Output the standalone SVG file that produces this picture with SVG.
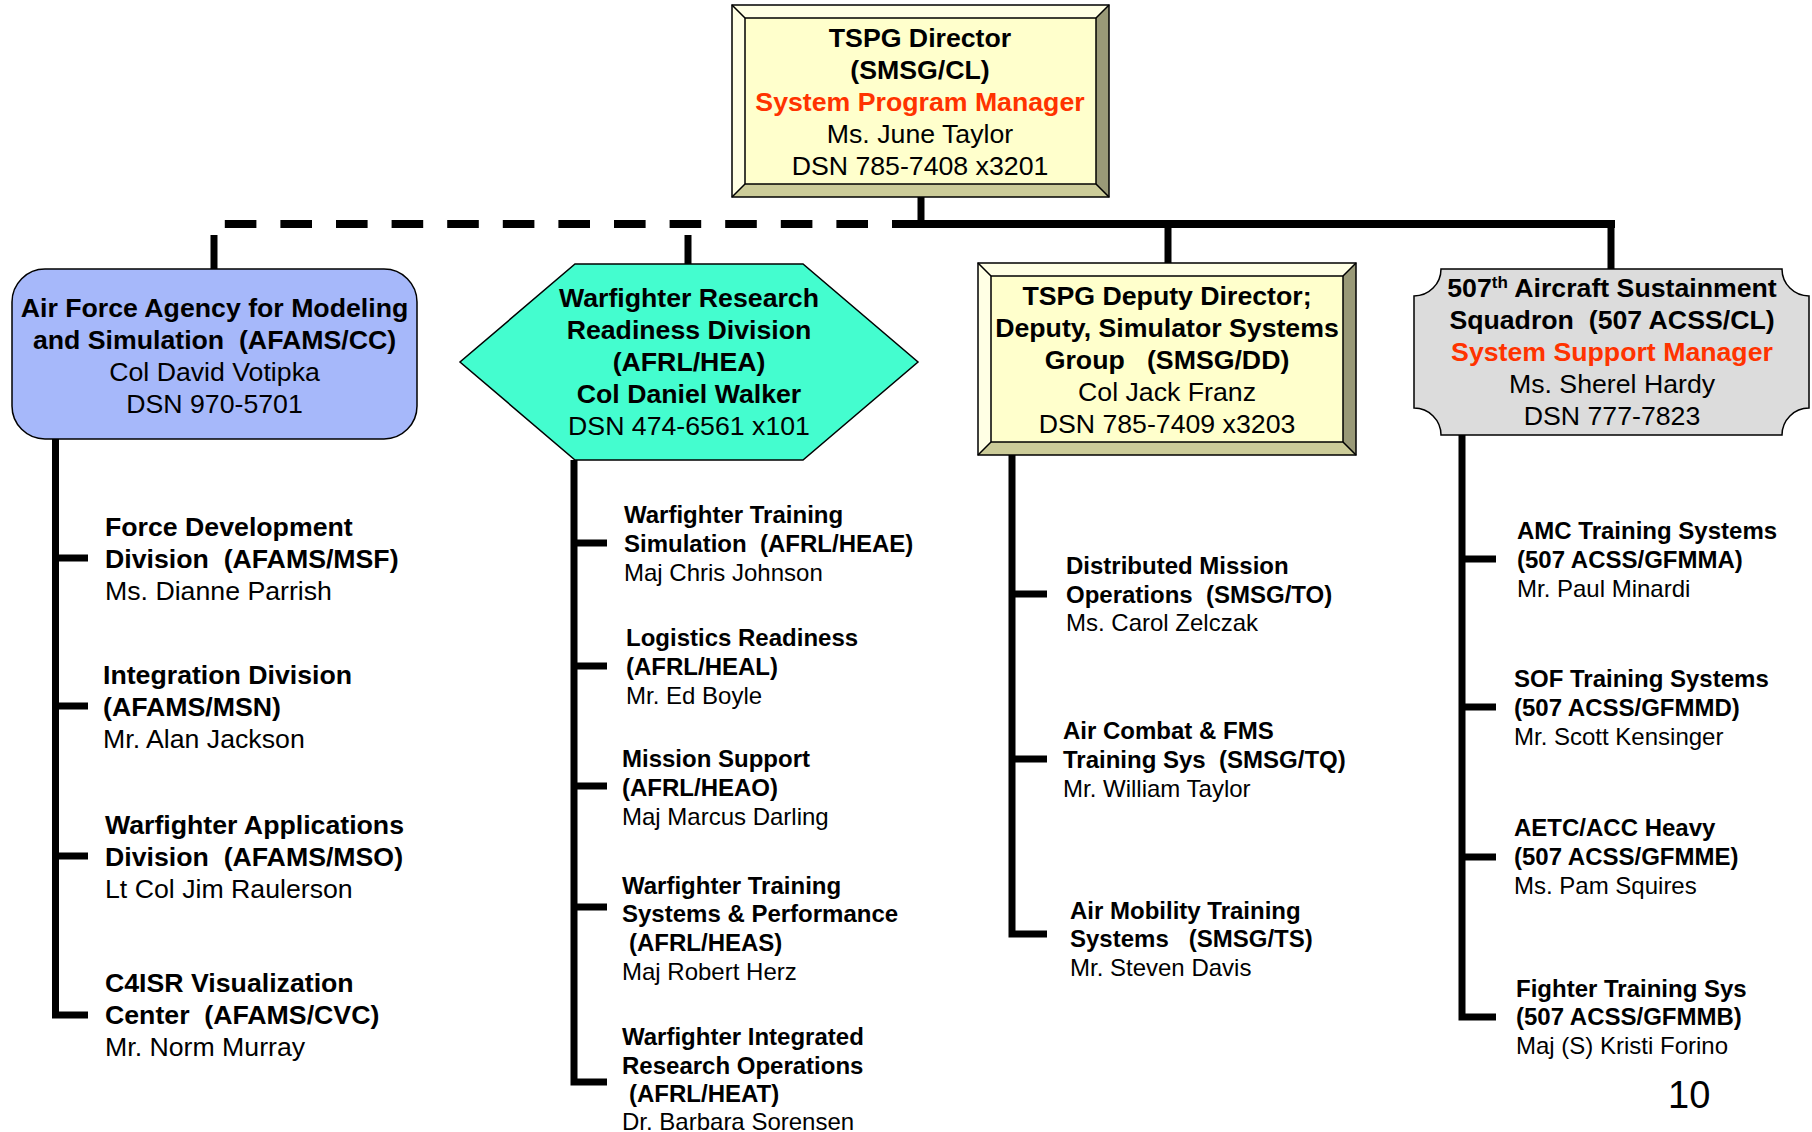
<svg xmlns="http://www.w3.org/2000/svg" width="1812" height="1132" viewBox="0 0 1812 1132">
<style>
text{font-family:"Liberation Sans",Arial,sans-serif;fill:#000}
.t26{font-size:26.7px}
.t24{font-size:24px}
.b{font-weight:bold}
.red{fill:#FF3300;font-weight:bold}
.c{text-anchor:middle}
.ln{stroke:#000;stroke-width:7;fill:none;stroke-linecap:butt}
.dash{stroke:#000;stroke-width:8;fill:none;stroke-dasharray:31.6 24;stroke-dashoffset:2.6}
.edge{stroke:#000;stroke-width:1.5;fill:none}
.bl{fill:#FFFFE4}
.bd{fill:#999977}
.bm{fill:#CCCC99}
.in{fill:#FFFFCC;stroke:#000;stroke-width:1.5}
</style>
<rect width="1812" height="1132" fill="#fff"/>

<g id="connectors">
  <line class="ln" x1="921" y1="197" x2="921" y2="228"/>
  <line class="ln" x1="918" y1="224" x2="1615" y2="224" style="stroke-width:8"/>
  <path class="dash" d="M921 224 H214"/>
  <line class="ln" x1="214" y1="235" x2="214" y2="269"/>
  <line class="ln" x1="688" y1="235" x2="688" y2="264"/>
  <line class="ln" x1="1168" y1="224" x2="1168" y2="263"/>
  <line class="ln" x1="1611" y1="224" x2="1611" y2="269"/>
  <path class="ln" d="M55.5 439 V1018.5 M52 558 H88 M52 706 H88 M52 856 H88 M52 1015 H88"/>
  <path class="ln" d="M574 460 V1085.5 M570.5 543 H607 M570.5 666 H607 M570.5 786 H607 M570.5 907 H607 M570.5 1082 H607"/>
  <path class="ln" d="M1012 455 V937.5 M1008.5 594 H1047 M1008.5 759 H1047 M1008.5 934 H1047"/>
  <path class="ln" d="M1462 435 V1020.5 M1458.5 559 H1496 M1458.5 707 H1496 M1458.5 857 H1496 M1458.5 1017 H1496"/>
</g>

<g id="director">
  <polygon class="bl" points="732,5 1109,5 1096,18 745,18"/>
  <polygon class="bl" points="732,5 745,18 745,184 732,197"/>
  <polygon class="bd" points="1109,5 1109,197 1096,184 1096,18"/>
  <polygon class="bm" points="732,197 745,184 1096,184 1109,197"/>
  <rect class="in" x="745" y="18" width="351" height="166"/>
  <rect class="edge" x="732" y="5" width="377" height="192"/>
  <path class="edge" d="M732 5 L745 18 M1109 5 L1096 18 M732 197 L745 184 M1109 197 L1096 184"/>
  <text class="t26 b c" x="920" y="47">TSPG Director</text>
  <text class="t26 b c" x="920" y="79">(SMSG/CL)</text>
  <text class="t26 red c" x="920" y="111">System Program Manager</text>
  <text class="t26 c" x="920" y="143">Ms. June Taylor</text>
  <text class="t26 c" x="920" y="175">DSN 785-7408 x3201</text>
</g>

<g id="afams">
  <rect x="12" y="269" width="405" height="170" rx="33" ry="33" fill="#A6B8FA" stroke="#000" stroke-width="1.5"/>
  <text class="t26 b c" x="214.5" y="317">Air Force Agency for Modeling</text>
  <text class="t26 b c" x="214.5" y="349">and Simulation &#160;(AFAMS/CC)</text>
  <text class="t26 c" x="214.5" y="381">Col David Votipka</text>
  <text class="t26 c" x="214.5" y="413">DSN 970-5701</text>
</g>

<g id="afrl-hea">
  <polygon points="575,264 803,264 918,362 803,460 575,460 460,362" fill="#44FDCF" stroke="#000" stroke-width="1.5"/>
  <text class="t26 b c" x="689" y="307">Warfighter Research</text>
  <text class="t26 b c" x="689" y="339">Readiness Division</text>
  <text class="t26 b c" x="689" y="371">(AFRL/HEA)</text>
  <text class="t26 b c" x="689" y="403">Col Daniel Walker</text>
  <text class="t26 c" x="689" y="435">DSN 474-6561 x101</text>
</g>

<g id="deputy">
  <polygon class="bl" points="978,263 1356,263 1343,276 991,276"/>
  <polygon class="bl" points="978,263 991,276 991,442 978,455"/>
  <polygon class="bd" points="1356,263 1356,455 1343,442 1343,276"/>
  <polygon class="bm" points="978,455 991,442 1343,442 1356,455"/>
  <rect class="in" x="991" y="276" width="352" height="166"/>
  <rect class="edge" x="978" y="263" width="378" height="192"/>
  <path class="edge" d="M978 263 L991 276 M1356 263 L1343 276 M978 455 L991 442 M1356 455 L1343 442"/>
  <text class="t26 b c" x="1167" y="305">TSPG Deputy Director;</text>
  <text class="t26 b c" x="1167" y="337">Deputy, Simulator Systems</text>
  <text class="t26 b c" x="1167" y="369">Group &#160;&#160;(SMSG/DD)</text>
  <text class="t26 c" x="1167" y="401">Col Jack Franz</text>
  <text class="t26 c" x="1167" y="433">DSN 785-7409 x3203</text>
</g>

<g id="acss">
  <path d="M1441 269 H1782 A27 27 0 0 0 1809 296 V408 A27 27 0 0 0 1782 435 H1441 A27 27 0 0 0 1414 408 V296 A27 27 0 0 0 1441 269 Z" fill="#DCDCDC" stroke="#000" stroke-width="1.5"/>
  <text class="t26 b c" x="1612" y="297">507<tspan font-size="17" dy="-9">th</tspan><tspan dy="9"> Aircraft Sustainment</tspan></text>
  <text class="t26 b c" x="1612" y="329">Squadron &#160;(507 ACSS/CL)</text>
  <text class="t26 red c" x="1612" y="361">System Support Manager</text>
  <text class="t26 c" x="1612" y="393">Ms. Sherel Hardy</text>
  <text class="t26 c" x="1612" y="425">DSN 777-7823</text>
</g>

<g id="afams-msf">
  <text class="t26 b" x="105" y="536">Force Development</text>
  <text class="t26 b" x="105" y="568">Division &#160;(AFAMS/MSF)</text>
  <text class="t26" x="105" y="600">Ms. Dianne Parrish</text>
</g>
<g id="afams-msn">
  <text class="t26 b" x="103" y="684">Integration Division</text>
  <text class="t26 b" x="103" y="716">(AFAMS/MSN)</text>
  <text class="t26" x="103" y="748">Mr. Alan Jackson</text>
</g>
<g id="afams-mso">
  <text class="t26 b" x="105" y="834">Warfighter Applications</text>
  <text class="t26 b" x="105" y="866">Division &#160;(AFAMS/MSO)</text>
  <text class="t26" x="105" y="898">Lt Col Jim Raulerson</text>
</g>
<g id="afams-cvc">
  <text class="t26 b" x="105" y="992">C4ISR Visualization</text>
  <text class="t26 b" x="105" y="1024">Center &#160;(AFAMS/CVC)</text>
  <text class="t26" x="105" y="1056">Mr. Norm Murray</text>
</g>

<g id="afrl-heae">
  <text class="t24 b" x="624" y="523">Warfighter Training</text>
  <text class="t24 b" x="624" y="552">Simulation &#160;(AFRL/HEAE)</text>
  <text class="t24" x="624" y="581">Maj Chris Johnson</text>
</g>
<g id="afrl-heal">
  <text class="t24 b" x="626" y="646">Logistics Readiness</text>
  <text class="t24 b" x="626" y="675">(AFRL/HEAL)</text>
  <text class="t24" x="626" y="704">Mr. Ed Boyle</text>
</g>
<g id="afrl-heao">
  <text class="t24 b" x="622" y="767">Mission Support</text>
  <text class="t24 b" x="622" y="796">(AFRL/HEAO)</text>
  <text class="t24" x="622" y="825">Maj Marcus Darling</text>
</g>
<g id="afrl-heas">
  <text class="t24 b" x="622" y="894">Warfighter Training</text>
  <text class="t24 b" x="622" y="922">Systems &amp; Performance</text>
  <text class="t24 b" x="629" y="951">(AFRL/HEAS)</text>
  <text class="t24" x="622" y="980">Maj Robert Herz</text>
</g>
<g id="afrl-heat">
  <text class="t24 b" x="622" y="1045">Warfighter Integrated</text>
  <text class="t24 b" x="622" y="1074">Research Operations</text>
  <text class="t24 b" x="629" y="1102">(AFRL/HEAT)</text>
  <text class="t24" x="622" y="1130">Dr. Barbara Sorensen</text>
</g>

<g id="smsg-to">
  <text class="t24 b" x="1066" y="574">Distributed Mission</text>
  <text class="t24 b" x="1066" y="603">Operations &#160;(SMSG/TO)</text>
  <text class="t24" x="1066" y="631">Ms. Carol Zelczak</text>
</g>
<g id="smsg-tq">
  <text class="t24 b" x="1063" y="739">Air Combat &amp; FMS</text>
  <text class="t24 b" x="1063" y="768">Training Sys &#160;(SMSG/TQ)</text>
  <text class="t24" x="1063" y="797">Mr. William Taylor</text>
</g>
<g id="smsg-ts">
  <text class="t24 b" x="1070" y="919">Air Mobility Training</text>
  <text class="t24 b" x="1070" y="947">Systems &#160;&#160;(SMSG/TS)</text>
  <text class="t24" x="1070" y="976">Mr. Steven Davis</text>
</g>

<g id="gfmma">
  <text class="t24 b" x="1517" y="539">AMC Training Systems</text>
  <text class="t24 b" x="1517" y="568">(507 ACSS/GFMMA)</text>
  <text class="t24" x="1517" y="597">Mr. Paul Minardi</text>
</g>
<g id="gfmmd">
  <text class="t24 b" x="1514" y="687">SOF Training Systems</text>
  <text class="t24 b" x="1514" y="716">(507 ACSS/GFMMD)</text>
  <text class="t24" x="1514" y="745">Mr. Scott Kensinger</text>
</g>
<g id="gfmme">
  <text class="t24 b" x="1514" y="836">AETC/ACC Heavy</text>
  <text class="t24 b" x="1514" y="865">(507 ACSS/GFMME)</text>
  <text class="t24" x="1514" y="894">Ms. Pam Squires</text>
</g>
<g id="gfmmb">
  <text class="t24 b" x="1516" y="997">Fighter Training Sys</text>
  <text class="t24 b" x="1516" y="1025">(507 ACSS/GFMMB)</text>
  <text class="t24" x="1516" y="1054">Maj (S) Kristi Forino</text>
</g>

<text x="1668" y="1108" style="font-size:38px">10</text>
</svg>
